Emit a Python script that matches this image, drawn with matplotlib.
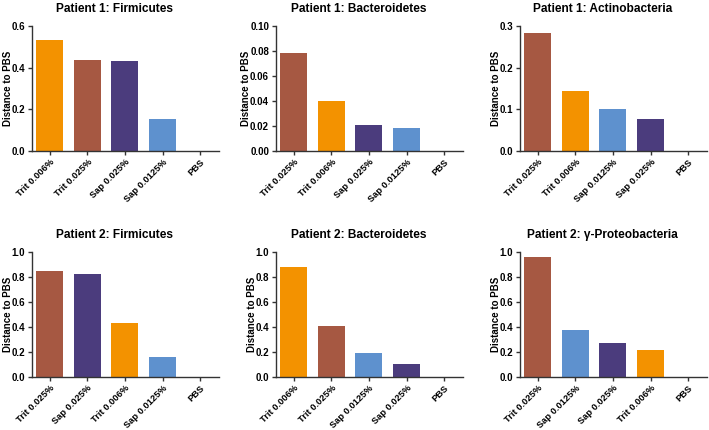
import matplotlib.pyplot as plt
from matplotlib.ticker import FormatStrFormatter

plt.rcParams['font.family'] = ['Liberation Sans', 'DejaVu Sans']
plt.rcParams['font.weight'] = 'bold'

colors = {
    'Trit 0.006%': '#F39200',
    'Trit 0.025%': '#A65842',
    'Sap 0.025%': '#4B3C7D',
    'Sap 0.0125%': '#5E91CE',
    'PBS': '#888888',
}

titles = ['Patient 1: Firmicutes', 'Patient 1: Bacteroidetes', 'Patient 1: Actinobacteria',
          'Patient 2: Firmicutes', 'Patient 2: Bacteroidetes', 'Patient 2: γ-Proteobacteria']

p1_firm_cats = ['Trit 0.006%', 'Trit 0.025%', 'Sap 0.025%', 'Sap 0.0125%', 'PBS']
p1_firm_vals = [0.535, 0.439, 0.432, 0.155, 0.0]

p1_bact_cats = ['Trit 0.025%', 'Trit 0.006%', 'Sap 0.025%', 'Sap 0.0125%', 'PBS']
p1_bact_vals = [0.078, 0.040, 0.021, 0.0185, 0.0]

p1_actino_cats = ['Trit 0.025%', 'Trit 0.006%', 'Sap 0.0125%', 'Sap 0.025%', 'PBS']
p1_actino_vals = [0.284, 0.143, 0.100, 0.076, 0.0]

p2_firm_cats = ['Trit 0.025%', 'Sap 0.025%', 'Trit 0.006%', 'Sap 0.0125%', 'PBS']
p2_firm_vals = [0.848, 0.821, 0.429, 0.163, 0.0]

p2_bact_cats = ['Trit 0.006%', 'Trit 0.025%', 'Sap 0.0125%', 'Sap 0.025%', 'PBS']
p2_bact_vals = [0.880, 0.405, 0.192, 0.107, 0.0]

p2_proteo_cats = ['Trit 0.025%', 'Sap 0.0125%', 'Sap 0.025%', 'Trit 0.006%', 'PBS']
p2_proteo_vals = [0.957, 0.373, 0.272, 0.219, 0.0]

all_cats = [p1_firm_cats, p1_bact_cats, p1_actino_cats, p2_firm_cats, p2_bact_cats, p2_proteo_cats]
all_vals = [p1_firm_vals, p1_bact_vals, p1_actino_vals, p2_firm_vals, p2_bact_vals, p2_proteo_vals]

y_max = [0.6, 0.10, 0.3, 1.0, 1.0, 1.0]
y_step = [0.2, 0.02, 0.1, 0.2, 0.2, 0.2]
y_fmt = ['%.1f', '%.2f', '%.1f', '%.1f', '%.1f', '%.1f']

W, H = 709, 430
fig = plt.figure(figsize=(W / 100, H / 100), dpi=100)

lefts = [32, 276, 520]
tops = [26, 252]
aw, ah = 187, 125

for i in range(6):
    r, c = divmod(i, 3)
    ax = fig.add_axes([lefts[c] / W, 1 - (tops[r] + ah) / H, aw / W, ah / H])
    cats = all_cats[i]
    vals = all_vals[i]
    x = list(range(len(cats)))
    ax.bar(x, vals, width=0.72, color=[colors[k] for k in cats])
    ax.set_xlim(-0.47, 4.5)
    ax.set_ylim(0, y_max[i])
    n = int(round(y_max[i] / y_step[i]))
    ax.set_yticks([k * y_step[i] for k in range(n + 1)])
    ax.yaxis.set_major_formatter(FormatStrFormatter(y_fmt[i]))
    ax.set_xticks(x)
    ax.set_xticklabels(cats, rotation=45, ha='right', rotation_mode='anchor',
                       fontsize=6.7, fontweight='bold')
    for lab in ax.get_yticklabels():
        lab.set_fontsize(7)
        lab.set_fontweight('bold')
    ax.set_ylabel('Distance to PBS', fontsize=7, fontweight='bold', labelpad=-1)
    ax.set_title(titles[i], fontsize=8.6, fontweight='bold', x=0.44, pad=10)
    for s in ['top', 'right']:
        ax.spines[s].set_visible(False)
    for s in ['left', 'bottom']:
        ax.spines[s].set_color('#333333')
        ax.spines[s].set_linewidth(1.0)
    ax.tick_params(axis='both', direction='out', length=3, width=1.0, color='#333333', pad=2)
    ax.tick_params(axis='x', pad=1.5)

fig.savefig('out.png', dpi=100)
